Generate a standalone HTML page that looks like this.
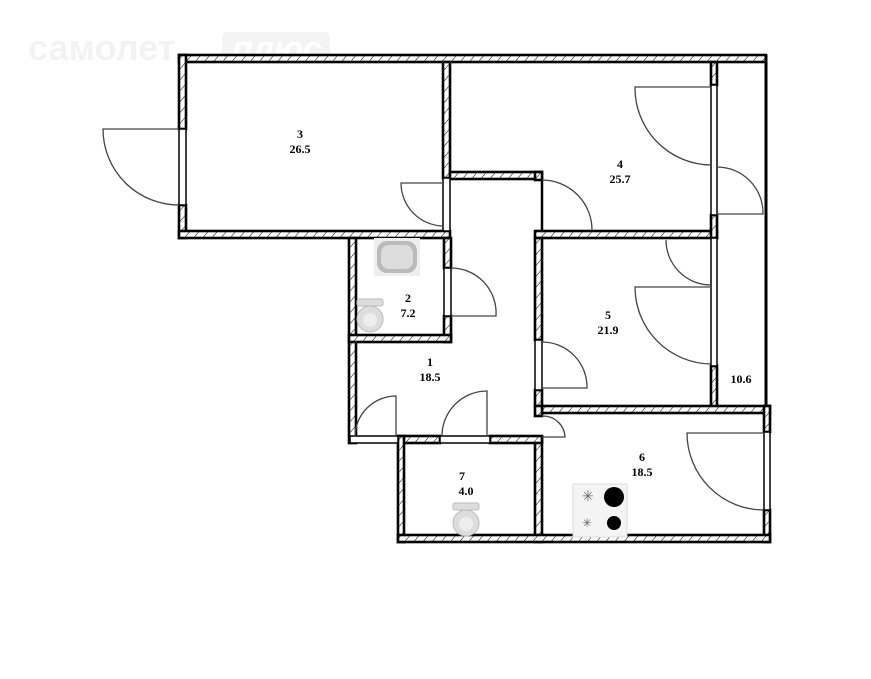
<!DOCTYPE html>
<html><head><meta charset="utf-8"><style>
html,body{margin:0;padding:0;background:#fff;width:871px;height:679px;overflow:hidden}
svg{display:block}
text{font-family:"Liberation Serif",serif;font-weight:bold;font-size:12px;fill:#000}
</style></head><body>
<svg width="871" height="679" viewBox="0 0 871 679">
<defs>
<pattern id="h" width="7" height="7" patternUnits="userSpaceOnUse" patternTransform="rotate(40)">
<rect width="7" height="7" fill="#fff"/><line x1="0" y1="0" x2="0" y2="7" stroke="#000" stroke-width="1"/>
</pattern>
</defs>
<text x="28" y="60" style="font-family:'Liberation Sans',sans-serif;font-size:36px;font-weight:bold;fill:#f3f3f3">самолет</text>
<rect x="222" y="32" width="108" height="32" rx="6" fill="#f4f4f4"/>
<text x="232" y="60" style="font-family:'Liberation Sans',sans-serif;font-size:34px;font-weight:bold;font-style:italic;fill:#fff">плюс</text>

<g fill="url(#h)" stroke="#000" stroke-width="2.6">
<rect x="179" y="55" width="587" height="7"/>
<rect x="179" y="55" width="7" height="74"/>
<rect x="179" y="205" width="7" height="33"/>
<rect x="179" y="231" width="271" height="7"/>
<rect x="443" y="62" width="7" height="116"/>
<rect x="450" y="172" width="92" height="7"/>
<rect x="535" y="172" width="7" height="8"/>
<rect x="535" y="231" width="182" height="7"/>
<rect x="711" y="62" width="6" height="23"/>
<rect x="711" y="215" width="6" height="23"/>
<rect x="711" y="366" width="6" height="41"/>
<rect x="535" y="238" width="7" height="102"/>
<rect x="535" y="390" width="7" height="16"/>
<rect x="349" y="238" width="7" height="205"/>
<rect x="444" y="238" width="7" height="30"/>
<rect x="444" y="316" width="7" height="26"/>
<rect x="349" y="335" width="102" height="7"/>
<rect x="542" y="406" width="228" height="7"/>
<rect x="535" y="406" width="7" height="10"/>
<rect x="535" y="437" width="7" height="105"/>
<rect x="764" y="406" width="6" height="26"/>
<rect x="764" y="510" width="6" height="32"/>
<rect x="398" y="436" width="42" height="7"/>
<rect x="490" y="436" width="52" height="7"/>
<rect x="398" y="436" width="6" height="106"/>
<rect x="398" y="535" width="372" height="7"/>
</g>
<g fill="#fff" stroke="#000" stroke-width="1.5">
<rect x="350" y="436" width="48" height="7"/>
<rect x="440" y="436" width="50" height="7"/>
<rect x="444" y="268" width="7" height="48"/>
<rect x="179" y="129" width="7" height="76"/>
<rect x="711" y="85" width="6" height="130"/>
<rect x="711" y="238" width="6" height="128"/>
<rect x="535" y="340" width="7" height="50"/>
<rect x="764" y="432" width="6" height="78"/>
<rect x="443" y="178" width="7" height="53"/>
</g>
<line x1="766" y1="55" x2="766" y2="407" stroke="#000" stroke-width="3"/>
<line x1="542" y1="180" x2="542" y2="231" stroke="#000" stroke-width="2.5"/>

<g fill="none" stroke="#444" stroke-width="1.3">
<path d="M179 129 H103 A76 76 0 0 0 179 205"/>
<path d="M443 183 H401 A43 43 0 0 0 443 226"/>
<path d="M542 180 A50 50 0 0 1 592 231"/>
<path d="M711 87 H635 A77 77 0 0 0 711 165"/>
<path d="M717 167 A46 46 0 0 1 763 214 H717"/>
<path d="M451 268 A45 45 0 0 1 496 316 H451"/>
<path d="M666 240 A45 45 0 0 0 711 285"/>
<path d="M711 287 H635 A77 77 0 0 0 711 364"/>
<path d="M542 342 A45 45 0 0 1 587 388 H542"/>
<path d="M396 437 V396 A41 41 0 0 0 355 437"/>
<path d="M487 437 V391 A45 45 0 0 0 442 437"/>
<path d="M542 416 A22 22 0 0 1 565 437 H542"/>
<path d="M764 433 H687 A77 77 0 0 0 764 510"/>
</g>

<rect x="374" y="238" width="46" height="38" fill="#eee"/>
<rect x="377" y="241" width="40" height="32" rx="10" fill="#bbb"/>
<rect x="381" y="245" width="32" height="24" rx="8" fill="#ddd"/>
<g fill="#ddd" stroke="#bbb">
<rect x="357" y="299" width="26" height="7" rx="2"/>
<circle cx="370" cy="319" r="13"/>
<rect x="453" y="503" width="26" height="7" rx="2"/>
<circle cx="466" cy="523" r="13"/>
</g>
<circle cx="370" cy="320" r="7" fill="#eee"/>
<circle cx="466" cy="524" r="7" fill="#eee"/>
<rect x="573" y="484" width="54" height="53" fill="#f4f4f4" stroke="#ddd"/>
<circle cx="614" cy="497" r="10" fill="#000"/>
<circle cx="614" cy="523" r="7" fill="#000"/>
<text x="582" y="501" style="font-size:14px;font-weight:normal;fill:#666">✳</text>
<text x="582" y="527" style="font-size:12px;font-weight:normal;fill:#666">✳</text>

<g text-anchor="middle">
<text x="300" y="138">3</text><text x="300" y="153">26.5</text>
<text x="620" y="168">4</text><text x="620" y="183">25.7</text>
<text x="408" y="302">2</text><text x="408" y="317">7.2</text>
<text x="608" y="319">5</text><text x="608" y="334">21.9</text>
<text x="430" y="366">1</text><text x="430" y="381">18.5</text>
<text x="741" y="383">10.6</text>
<text x="642" y="461">6</text><text x="642" y="476">18.5</text>
<text x="462" y="480">7</text><text x="466" y="495">4.0</text>
</g>
</svg>
</body></html>
